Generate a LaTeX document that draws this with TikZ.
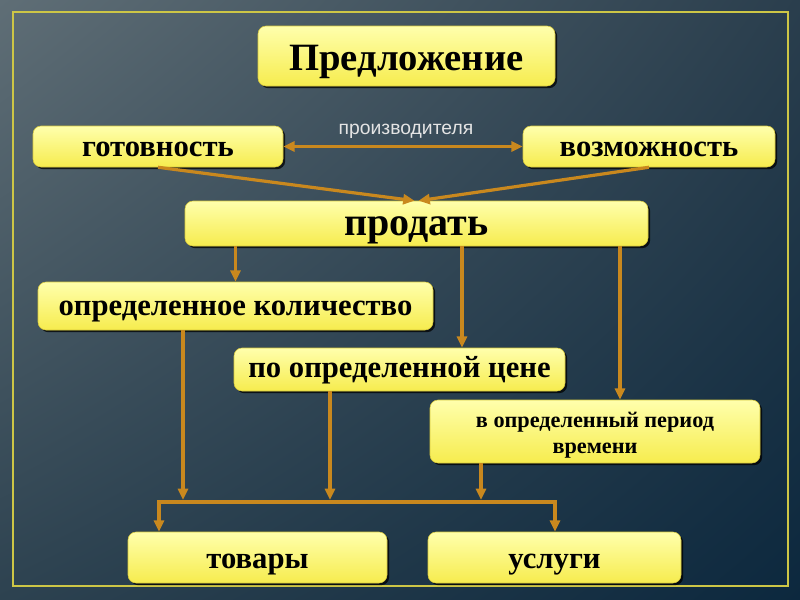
\documentclass[tikz,border=0pt]{standalone}
\usepackage{fontspec}
\setmainfont{Liberation Serif}
\newfontfamily\lsans{Liberation Sans}
\usetikzlibrary{shadows,shadings,arrows.meta}
\definecolor{bgA}{RGB}{95,110,118}
\definecolor{bgB}{RGB}{42,62,77}
\definecolor{bgC}{RGB}{45,66,80}
\definecolor{bgD}{RGB}{12,40,62}
\definecolor{frameC}{RGB}{205,198,70}
\definecolor{boxTop}{RGB}{255,255,172}
\definecolor{boxBot}{RGB}{246,236,78}
\definecolor{boxEdge}{RGB}{215,200,60}
\definecolor{lineC}{RGB}{201,136,30}
\definecolor{labC}{RGB}{228,228,228}
\tikzset{
  ybox/.style={rounded corners=6pt, top color=boxTop, bottom color=boxBot, draw=boxEdge, line width=0.4pt,
    drop shadow={shadow xshift=1.6pt, shadow yshift=-1.6pt, opacity=0.75, fill=black},
    inner sep=0pt, font=\bfseries, text depth=0pt},
  conn/.style={draw=lineC, line width=2.4pt},
  arr/.style={conn, -{Triangle[length=8.5pt,width=7.5pt]}},
  darr/.style={conn, {Triangle[length=8.5pt,width=7.5pt]}-{Triangle[length=8.5pt,width=7.5pt]}},
}
\begin{document}
\begin{tikzpicture}[x=0.75pt,y=-0.75pt]
\useasboundingbox (0,0) rectangle (800,600);
\shade[upper left=bgA, upper right=bgB, lower left=bgC, lower right=bgD] (0,0) rectangle (800,600);
\draw[frameC, line width=1.6pt] (13,12) rectangle (788,586);

\node[ybox, minimum width=222.75pt, minimum height=45pt, text height=21pt, font=\bfseries\fontsize{29}{32}\selectfont] (pred) at (406.5,56) {Предложение};
\node[ybox, minimum width=187.5pt, minimum height=30.75pt, text height=15pt, font=\bfseries\fontsize{23}{26}\selectfont] (got) at (158,146.5) {готовность};
\node[ybox, minimum width=189pt, minimum height=30.75pt, text height=15pt, font=\bfseries\fontsize{23}{26}\selectfont] (voz) at (649,146.5) {возможность};
\node[ybox, minimum width=347.25pt, minimum height=33.75pt, text height=17.25pt, font=\bfseries\fontsize{30}{33}\selectfont] (prod) at (416.5,223.5) {продать};
\node[ybox, minimum width=296.25pt, minimum height=36pt, text height=13.5pt, font=\bfseries\fontsize{23}{26}\selectfont] (opk) at (235.5,306) {определенное количество};
\node[ybox, minimum width=248.25pt, minimum height=32.25pt, text height=11.25pt, font=\bfseries\fontsize{23}{26}\selectfont] (cena) at (399.5,369.5) {по определенной цене};
\node[ybox, align=center, minimum width=247.5pt, minimum height=47.25pt, text height=32.25pt, font=\bfseries\fontsize{16.7}{19.5}\selectfont] (per) at (595,431.5) {в определенный период\\времени};
\node[ybox, minimum width=194.25pt, minimum height=38.25pt, text height=15.75pt, font=\bfseries\fontsize{23}{26}\selectfont] (tov) at (257.5,557.5) {товары};
\node[ybox, minimum width=189.75pt, minimum height=38.25pt, text height=15.75pt, font=\bfseries\fontsize{23}{26}\selectfont] (usl) at (554.5,557.5) {услуги};

\node[font=\lsans\fontsize{14.5}{16}\selectfont, text=labC, inner sep=0pt] (lab) at (406,131) {производителя};

\coordinate (c462) at (462,0);
\coordinate (c620) at (620,0);
\coordinate (xa) at (183,500);
\coordinate (xb) at (330,500);
\coordinate (xc) at (481,500);
\coordinate (bl) at (159,502);
\coordinate (br) at (555,502);

\draw[darr] (got.east) -- (voz.west);
\draw[arr] (got.south) -- ([xshift=-1.5pt]prod.north);
\draw[arr] (voz.south) -- ([xshift=1.5pt]prod.north);
\draw[arr] (opk.north |- prod.south) -- (opk.north);
\draw[arr] (prod.south -| c462) -- (cena.north -| c462);
\draw[arr] (prod.south -| c620) -- (per.north -| c620);
\draw[arr] (opk.south -| xa) -- (xa);
\draw[arr] (cena.south -| xb) -- (xb);
\draw[arr] (per.south -| xc) -- (xc);
\draw[conn, line cap=rect] (bl) -- (br);
\draw[arr] (bl) -- (bl |- tov.north);
\draw[arr] (br) -- (br |- usl.north);
\end{tikzpicture}
\end{document}
